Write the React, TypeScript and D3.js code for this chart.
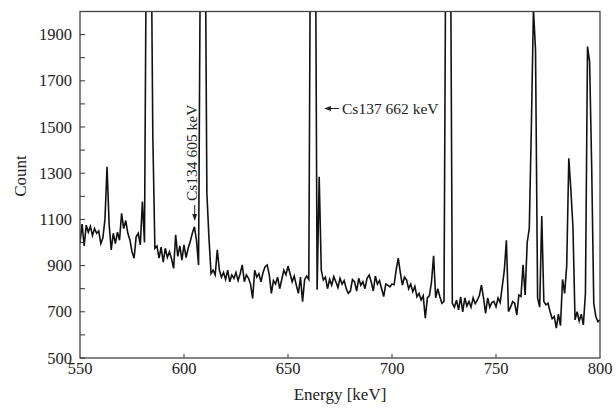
import { useRef, useEffect } from 'react';
import * as d3 from 'd3';

// gamma spectrum, 1 keV per channel starting at 550 keV
var START_KEV = 550;
var COUNTS = [
  1000, 1080, 985, 1075, 1045, 1070, 1030, 1060, 1040, 1050,
  995, 1020, 1100, 1328, 1080, 968, 1040, 995, 1045, 1010,
  1126, 1060, 1095, 1040, 1011, 960, 932, 1025, 1040, 990,
  1177, 1000, 2500, 2700, 2600, 1466, 975, 985, 932, 980,
  915, 975, 935, 960, 930, 888, 1033, 940, 985, 924,
  990, 935, 975, 1004, 1040, 1068, 1010, 903, 2500, 2800,
  2700, 1213, 1020, 866, 880, 860, 968, 881, 850, 870,
  840, 880, 830, 860, 845, 870, 835, 865, 903, 830,
  860, 845, 820, 758, 880, 850, 865, 830, 870, 895,
  903, 860, 780, 835, 820, 850, 800, 840, 880, 860,
  898, 865, 830, 855, 815, 780, 850, 744, 840, 855,
  840, 2800, 3000, 2800, 795, 1285, 880, 838, 850, 800,
  840, 815, 852, 830, 805, 845, 820, 835, 800, 780,
  790, 840, 830, 790, 845, 815, 830, 800, 845, 859,
  830, 790, 855, 820, 835, 800, 766, 820, 815, 808,
  820, 817, 880, 932, 870, 816, 850, 838, 800, 820,
  787, 810, 765, 780, 751, 770, 672, 760, 770, 830,
  942, 760, 800, 765, 737, 745, 2600, 2800, 2600, 737,
  720, 750, 708, 765, 700, 760, 725, 745, 720, 760,
  735, 750, 770, 816, 760, 693, 760, 720, 740, 745,
  722, 760, 740, 809, 880, 1010, 701, 720, 744, 737,
  686, 773, 766, 903, 773, 1000, 1061, 1500, 2010, 1834,
  760, 720, 1115, 745, 730, 737, 700, 670, 680, 629,
  690, 640, 840, 780, 900, 1365, 1227, 1065, 665, 700,
  660, 690, 643, 780, 1848, 1783, 1329, 737, 680, 657,
  665
];

var X_TICKS = [550, 600, 650, 700, 750, 800];
var Y_TICKS = [500, 600, 700, 800, 900, 1000, 1100, 1200, 1300, 1400, 1500, 1600, 1700, 1800, 1900];
var Y_LABELS = [500, 700, 900, 1100, 1300, 1500, 1700, 1900];

var FONT = '"Liberation Serif", "Times New Roman", serif';
var W = 616;
var H = 409;

export default function App() {
  var svgRef = useRef<SVGSVGElement | null>(null);

  useEffect(function () {
    var svg = d3.select(svgRef.current);
    svg.selectAll('*').remove();

    var left = 80, right = 600, top = 11.5, bottom = 358;

    var x = d3.scaleLinear().domain([550, 800]).range([left, right]);
    var y = d3.scaleLinear().domain([500, 2000]).range([bottom, top]);

    var data = COUNTS.map(function (c, i) { return { e: START_KEV + i, c: c }; });

    svg.append('defs').append('clipPath').attr('id', 'plot-clip')
      .append('rect')
      .attr('x', left).attr('y', top)
      .attr('width', right - left).attr('height', bottom - top);

    // spectrum
    var line = d3.line<any>()
      .x(function (d) { return x(d.e); })
      .y(function (d) { return y(d.c); });

    svg.append('path')
      .datum(data)
      .attr('clip-path', 'url(#plot-clip)')
      .attr('fill', 'none')
      .attr('stroke', '#111')
      .attr('stroke-width', 1.6)
      .attr('stroke-linejoin', 'miter')
      .attr('d', line);

    // frame
    svg.append('rect')
      .attr('x', left).attr('y', top)
      .attr('width', right - left).attr('height', bottom - top)
      .attr('fill', 'none')
      .attr('stroke', '#444')
      .attr('stroke-width', 1.3);

    // y ticks (inward)
    svg.append('g').selectAll('line')
      .data(Y_TICKS)
      .join('line')
      .attr('x1', left).attr('x2', left + 5)
      .attr('y1', function (d) { return y(d); })
      .attr('y2', function (d) { return y(d); })
      .attr('stroke', '#333');

    svg.append('g').selectAll('text')
      .data(Y_LABELS)
      .join('text')
      .attr('x', left - 8)
      .attr('y', function (d) { return y(d) + 5.5; })
      .attr('text-anchor', 'end')
      .attr('font-family', FONT)
      .attr('font-size', '16.5px')
      .attr('fill', '#222')
      .text(function (d) { return d; });

    // x ticks (inward)
    svg.append('g').selectAll('line')
      .data(X_TICKS.slice(1, -1))
      .join('line')
      .attr('x1', function (d) { return x(d); })
      .attr('x2', function (d) { return x(d); })
      .attr('y1', bottom).attr('y2', bottom - 4)
      .attr('stroke', '#333');

    svg.append('g').selectAll('text')
      .data(X_TICKS)
      .join('text')
      .attr('x', function (d) { return x(d); })
      .attr('y', bottom + 16)
      .attr('text-anchor', 'middle')
      .attr('font-family', FONT)
      .attr('font-size', '16.5px')
      .attr('fill', '#222')
      .text(function (d) { return d; });

    // axis titles
    svg.append('text')
      .attr('x', (left + right) / 2)
      .attr('y', 400)
      .attr('text-anchor', 'middle')
      .attr('font-family', FONT)
      .attr('font-size', '17px')
      .attr('fill', '#222')
      .text('Energy [keV]');

    svg.append('text')
      .attr('transform', 'translate(26,176) rotate(-90)')
      .attr('text-anchor', 'middle')
      .attr('font-family', FONT)
      .attr('font-size', '17px')
      .attr('fill', '#222')
      .text('Count');

    // annotations
    var ax605 = x(605) + 0.3;
    svg.append('text')
      .attr('transform', 'translate(' + (ax605 + 2) + ',201) rotate(-90)')
      .attr('font-family', FONT)
      .attr('font-size', '15.5px')
      .attr('fill', '#222')
      .text('Cs134 605 keV');
    svg.append('line')
      .attr('x1', ax605).attr('x2', ax605)
      .attr('y1', 205).attr('y2', 216)
      .attr('stroke', '#222').attr('stroke-width', 1);
    svg.append('path')
      .attr('d', 'M' + (ax605 - 2.5) + ',214 L' + (ax605 + 2.5) + ',214 L' + ax605 + ',221 Z')
      .attr('fill', '#222');

    var ax662 = x(663) + 9;
    svg.append('line')
      .attr('x1', ax662 + 5).attr('x2', ax662 + 15)
      .attr('y1', 108.5).attr('y2', 108.5)
      .attr('stroke', '#222').attr('stroke-width', 1);
    svg.append('path')
      .attr('d', 'M' + ax662 + ',108.5 L' + (ax662 + 7) + ',106 L' + (ax662 + 7) + ',111 Z')
      .attr('fill', '#222');
    svg.append('text')
      .attr('x', ax662 + 18)
      .attr('y', 114)
      .attr('font-family', FONT)
      .attr('font-size', '15.5px')
      .attr('fill', '#222')
      .text('Cs137 662 keV');
  }, []);

  return (
    <svg
      ref={svgRef}
      width={W}
      height={H}
      style={{ position: 'absolute', left: 0, top: 0, background: '#fff' }}
    />
  );
}
